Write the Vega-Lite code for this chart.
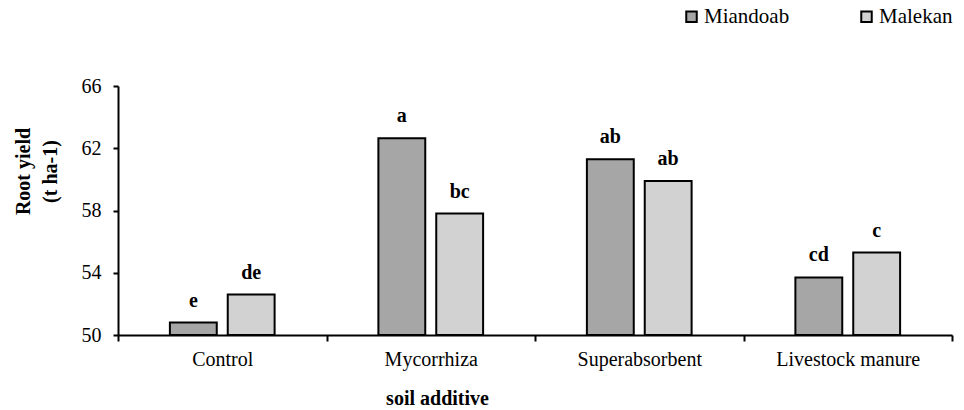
{
  "$schema": "https://vega.github.io/schema/vega-lite/v6.json",
  "width": 834,
  "height": 249,
  "autosize": {"type": "none"},
  "padding": {"left": 118, "top": 86, "right": 12, "bottom": 75},
  "background": "white",
  "config": {
    "font": "Liberation Serif",
    "view": {"stroke": null},
    "axis": {"grid": false, "domainColor": "black", "tickColor": "black", "labelColor": "black", "titleColor": "black"}
  },
  "data": {
    "values": [
      {"additive": "Control", "site": "Miandoab", "yield": 50.8, "group": "e"},
      {"additive": "Control", "site": "Malekan", "yield": 52.6, "group": "de"},
      {"additive": "Mycorrhiza", "site": "Miandoab", "yield": 62.65, "group": "a"},
      {"additive": "Mycorrhiza", "site": "Malekan", "yield": 57.8, "group": "bc"},
      {"additive": "Superabsorbent", "site": "Miandoab", "yield": 61.3, "group": "ab"},
      {"additive": "Superabsorbent", "site": "Malekan", "yield": 59.9, "group": "ab"},
      {"additive": "Livestock manure", "site": "Miandoab", "yield": 53.7, "group": "cd"},
      {"additive": "Livestock manure", "site": "Malekan", "yield": 55.3, "group": "c"}
    ]
  },
  "encoding": {
    "x": {
      "field": "additive",
      "type": "nominal",
      "sort": ["Control", "Mycorrhiza", "Superabsorbent", "Livestock manure"],
      "scale": {"paddingInner": 0, "paddingOuter": 0},
      "axis": {
        "title": "soil additive",
        "titleFont": "Liberation Serif",
        "titleFontSize": 20,
        "titleFontWeight": "bold",
        "titleX": 319,
        "titleY": 69,
        "titleAlign": "center",
        "titleBaseline": "alphabetic",
        "labelFont": "Liberation Serif",
        "labelAngle": 0,
        "labelFontSize": 20,
        "labelPadding": 8,
        "tickBand": "extent",
        "tickSize": 6,
        "tickWidth": 2,
        "domainWidth": 2
      }
    },
    "xOffset": {
      "field": "site",
      "type": "nominal",
      "sort": ["Miandoab", "Malekan"],
      "scale": {"paddingInner": 0.19, "paddingOuter": 0.897}
    },
    "y": {
      "field": "yield",
      "type": "quantitative",
      "scale": {"domain": [50, 66], "zero": false, "nice": false},
      "axis": {
        "title": ["Root yield", "(t ha-1)"],
        "titleFont": "Liberation Serif",
        "titleFontSize": 20,
        "titleFontWeight": "bold",
        "titleAngle": -90,
        "titleX": -105,
        "titleY": 85,
        "titleAlign": "center",
        "titleBaseline": "top",
        "titleLineHeight": 27,
        "values": [50, 54, 58, 62, 66],
        "labelFont": "Liberation Serif",
        "labelFontSize": 20,
        "labelPadding": 12,
        "tickSize": 5,
        "tickWidth": 2,
        "domainWidth": 2
      }
    }
  },
  "layer": [
    {
      "mark": {"type": "bar", "stroke": "black", "strokeWidth": 2, "clip": true},
      "encoding": {
        "y2": {"datum": 50},
        "fill": {
          "field": "site",
          "type": "nominal",
          "sort": ["Miandoab", "Malekan"],
          "scale": {"domain": ["Miandoab", "Malekan"], "range": ["#a6a6a6", "#d2d2d2"]},
          "legend": {
            "title": null,
            "orient": "none",
            "direction": "horizontal",
            "legendX": 563,
            "legendY": -80,
            "symbolType": "square",
            "symbolSize": 110,
            "symbolStrokeColor": "black",
            "symbolStrokeWidth": 2,
            "labelFont": "Liberation Serif",
            "labelFontSize": 21,
            "labelOffset": 2,
            "labelColor": "black",
            "columnPadding": 66,
            "labelLimit": 200
          }
        }
      }
    },
    {
      "mark": {"type": "text", "font": "Liberation Serif", "fontWeight": "bold", "fontSize": 20, "baseline": "alphabetic", "dy": -16, "color": "black"},
      "encoding": {"text": {"field": "group"}}
    }
  ]
}
